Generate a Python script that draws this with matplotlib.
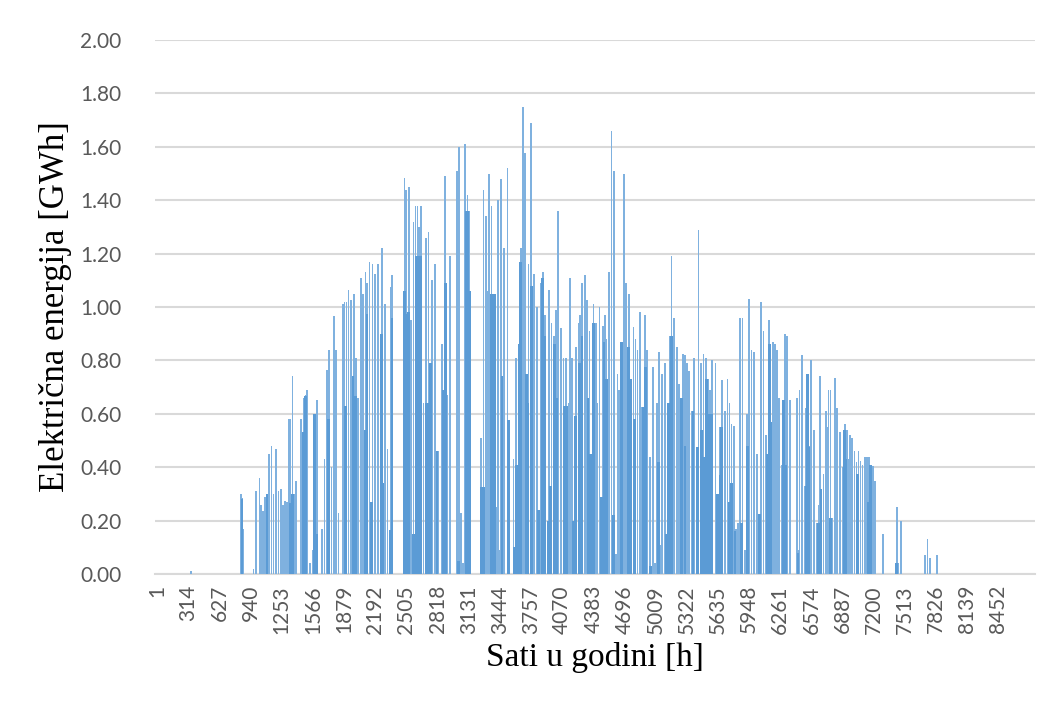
import matplotlib.pyplot as plt
from matplotlib.ticker import FixedLocator, FuncFormatter

# hourly output of the plant over one year (8760 h); hours not listed are zero
hours = [
    340,
    843, 853, 863, 970, 997, 1031, 1044, 1064, 1088, 1104, 1124, 1151, 1171,
    1198, 1221, 1245, 1265, 1288, 1305, 1322, 1339, 1362, 1379, 1395, 1446,
    1459, 1476, 1492, 1509, 1539, 1566, 1586, 1606, 1656, 1683, 1707, 1727,
    1754, 1780, 1800, 1824, 1867, 1884, 1904, 1924, 1948, 1968, 1981, 2001,
    2021, 2048, 2068, 2095, 2108, 2135, 2148, 2165, 2192, 2219, 2249, 2262,
    2276, 2289, 2316, 2336, 2346, 2363, 2477, 2487, 2503, 2530, 2550, 2577,
    2587, 2597,
    2617, 2633, 2650, 2677, 2704, 2727, 2744, 2761, 2794, 2828, 2864, 2878,
    2891, 2911, 2945, 3012, 3035, 3052, 3072, 3095, 3119, 3132, 3146, 3253,
    3266, 3279, 3303, 3320, 3333, 3360, 3380, 3393, 3413, 3427, 3447, 3453,
    3474, 3487, 3520, 3534, 3581, 3607, 3624, 3638, 3654, 3674, 3698, 3715,
    3731, 3755, 3775, 3788, 3815, 3835, 3855, 3875, 3895, 3922, 3939, 3962,
    3989, 4009, 4029, 4056, 4083, 4109, 4133, 4150, 4170, 4196, 4210, 4237,
    4250, 4270, 4297, 4317, 4344, 4364, 4384, 4411,
    4418, 4445, 4458, 4478, 4498, 4512, 4538, 4565, 4579, 4592, 4609, 4626,
    4639, 4659, 4679, 4689, 4713, 4726, 4743, 4766, 4786, 4806, 4826, 4853,
    4873, 4900, 4920, 4954, 4980, 5000, 5020, 5041, 5061, 5074, 5101, 5114,
    5134, 5154, 5168, 5194, 5221, 5241, 5261, 5282, 5302, 5322, 5342, 5369,
    5395, 5422, 5439, 5462, 5489, 5516, 5536, 5556, 5576, 5610, 5630, 5650,
    5676, 5703, 5730, 5750, 5770, 5797, 5817, 5837, 5857, 5881, 5904, 5924,
    5948, 5971, 5998, 6025, 6045, 6065, 6092, 6118, 6145, 6165, 6185, 6205,
    6225, 6245, 6272, 6285, 6299, 6312, 6332, 6359, 6426, 6439, 6453, 6479,
    6506, 6520, 6540, 6553, 6573, 6600, 6627, 6647, 6657, 6674, 6694, 6720,
    6734, 6747, 6767, 6787, 6814, 6834, 6861, 6888, 6908, 6928, 6941, 6961,
    6981, 7008, 7028, 7048, 7068, 7088, 7109, 7129, 7149, 7169, 7196, 7216,
    7296, 7423, 7437, 7450, 7473, 7714, 7741, 7765, 7835,
]
energy = [
    0.01,
    0.30, 0.285, 0.17, 0.02, 0.31, 0.36, 0.26, 0.235, 0.29, 0.30, 0.45, 0.48, 0.30,
    0.47, 0.31, 0.32, 0.26, 0.275, 0.27, 0.58, 0.58, 0.74, 0.30, 0.35, 0.58,
    0.26, 0.66, 0.67, 0.69, 0.04, 0.09, 0.15, 0.65, 0.17, 0.43, 0.765, 0.84,
    0.40, 0.965, 0.84, 0.23, 1.01, 1.02, 1.02, 1.065, 1.025, 0.74, 1.05, 0.81,
    0.66, 1.11, 1.05, 1.13, 1.09, 1.17, 0.27, 1.16, 1.125, 1.16, 0.90, 1.22,
    0.34, 1.01, 0.47, 0.165, 1.075, 1.12, 1.06, 1.485, 1.44, 1.45, 0.95, 1.32,
    0.15, 1.38,
    1.38, 1.30, 1.38, 0.64, 1.26, 1.28, 0.79, 1.10, 1.16, 0.46, 0.86, 0.69,
    1.49, 0.67, 1.19, 1.51, 1.60, 0.23, 0.04, 1.61, 1.42, 1.36, 1.06, 0.51,
    0.325, 1.44, 1.34, 1.06, 1.50, 1.38, 1.04, 1.04, 0.25, 1.40, 0.09, 1.48,
    0.74, 1.22, 1.52, 0.575, 0.43, 0.81, 0.41, 0.86, 1.22, 1.75, 1.575, 0.74,
    1.16, 1.69, 1.08, 1.125, 1.00, 0.24, 1.09, 1.13, 0.97, 0.20, 1.065, 0.94,
    0.89, 0.99, 1.36, 0.92, 0.81, 0.81, 0.64, 1.11, 0.81, 0.56, 0.85, 0.94,
    0.97, 1.09, 1.12, 1.025, 0.91, 0.45, 1.01, 0.94,
    0.64, 1.00, 0.29, 0.93, 0.97, 0.88, 1.13, 1.66, 0.22, 1.51, 0.075, 0.75,
    0.69, 0.87, 0.325, 1.50, 1.09, 0.85, 1.05, 0.73, 0.925, 0.88, 0.84, 0.98,
    0.625, 0.97, 0.84, 0.44, 0.775, 0.04, 0.64, 0.83, 0.11, 0.75, 0.79, 0.15,
    0.64, 0.89, 1.19, 0.96, 0.85, 0.71, 0.66, 0.825, 0.82, 0.79, 0.76, 0.61,
    0.81, 0.475, 1.29, 0.79, 0.825, 0.81, 0.73, 0.69, 0.80, 0.79, 0.29, 0.55,
    0.725, 0.61, 0.73, 0.64, 0.56, 0.555, 0.17, 0.19, 0.96, 0.96, 0.09, 0.60,
    1.03, 0.84, 0.83, 0.45, 0.225, 1.02, 0.91, 0.52, 0.95, 0.57, 0.87, 0.86,
    0.84, 0.66, 0.41, 0.06, 0.65, 0.90, 0.89, 0.65, 0.66, 0.09, 0.69, 0.82,
    0.33, 0.62, 0.75, 0.48, 0.80, 0.54, 0.19, 0.26, 0.74, 0.18, 0.375, 0.61,
    0.55, 0.69, 0.69, 0.21, 0.735, 0.62, 0.53, 0.40, 0.56, 0.54, 0.43, 0.52,
    0.51, 0.46, 0.42, 0.46, 0.425, 0.41, 0.44, 0.44, 0.44, 0.40, 0.405, 0.35,
    0.15, 0.025, 0.25, 0.04, 0.20, 0.07, 0.13, 0.06, 0.07,
]

# runs of neighbouring hours that merge into solid blocks
block_hours = [
    854, 1105, 1340, 1365, 1470, 1495, 1585, 1600, 1720, 1890, 1970, 1995,
    2090, 2110, 2155, 2255, 2270, 2340, 2360, 2485, 2510, 2530, 2575, 2605,
    2625, 2645, 2705, 2720, 2750, 2812, 2875, 2900, 3030, 3105, 3125, 3140,
    3260, 3285, 3355, 3375, 3395, 3465, 3531, 3590, 3610, 3640, 3650, 3710,
    3725, 3765, 3830, 3875, 3890, 3930, 3950, 3995, 4010, 4095, 4115, 4180,
    4205, 4245, 4270, 4330, 4355, 4384, 4465, 4490, 4518, 4585, 4665, 4735,
    4760, 4800, 4885, 4905, 4954, 5035, 5120, 5140, 5165, 5270, 5305, 5385,
    5430, 5472, 5490, 5522, 5540, 5573, 5628, 5660, 5673, 5750, 5770, 5807,
    5870, 5930, 6050, 6135, 6150, 6165, 6295, 6310, 6440, 6520, 6535, 6550,
    6645, 6670, 6765, 6905, 6920, 7040, 7150, 7170, 7430,
]
block_energy = [
    0.28, 0.30, 0.265, 0.30, 0.53, 0.665, 0.60, 0.15, 0.58, 0.63, 0.74, 0.665,
    0.54, 0.975, 0.27, 0.90, 0.34, 0.165, 0.96, 1.06, 0.975, 0.98, 0.15, 1.19,
    1.19, 1.19, 0.64, 0.64, 0.79, 0.46, 0.69, 1.09, 0.05, 1.36, 1.36, 1.06,
    0.325, 0.325, 1.05, 1.05, 1.05, 0.74, 0.575, 0.10, 0.41, 0.86, 1.17, 0.75,
    0.64, 1.08, 0.24, 1.11, 0.89, 0.20, 0.33, 0.86, 0.66, 0.63, 0.63, 0.20,
    0.59, 0.79, 0.89, 0.66, 0.45, 0.94, 0.29, 0.87, 0.73, 0.22, 0.87, 0.85,
    0.73, 0.58, 0.625, 0.775, 0.03, 0.42, 0.15, 0.64, 0.89, 0.66, 0.48, 0.61,
    0.475, 0.54, 0.44, 0.73, 0.60, 0.60, 0.30, 0.37, 0.55, 0.27, 0.34, 0.16,
    0.19, 0.48, 0.225, 0.45, 0.86, 0.57, 0.65, 0.41, 0.08, 0.33, 0.75, 0.475,
    0.19, 0.32, 0.21, 0.54, 0.43, 0.375, 0.27, 0.41, 0.04,
]

n_hours = 8760
tick_hours = list(range(1, n_hours + 1, 313))

blue = '#5B9BD5'
light_blue = '#7FB1DF'
grey = '#595959'

fig = plt.figure(figsize=(10.49, 7.11), dpi=100)
ax = fig.add_axes([155 / 1049, 1 - 574 / 711, 880 / 1049, 534 / 711])

ax.bar(hours, energy, width=17, color=light_blue, linewidth=0, zorder=3)
ax.bar(block_hours, block_energy, width=28, color=blue, linewidth=0, zorder=4)

ax.set_xlim(-20, n_hours + 60)
ax.set_ylim(0, 2.0)
ax.set_yticks([i * 0.2 for i in range(11)])
ax.yaxis.set_major_formatter(FuncFormatter(lambda v, _: '{:.2f}'.format(v)))
ax.xaxis.set_major_locator(FixedLocator(tick_hours))
ax.set_xticklabels([str(h) for h in tick_hours], rotation=90)

ax.grid(axis='y', color='#D9D9D9', linewidth=1.5, zorder=0)
ax.set_axisbelow(True)
for side in ('top', 'right', 'left'):
    ax.spines[side].set_visible(False)
ax.spines['bottom'].set_color('#D9D9D9')
ax.spines['bottom'].set_linewidth(1.5)
ax.tick_params(axis='both', length=0, labelsize=15, labelcolor=grey)
ax.tick_params(axis='y', pad=24)
ax.tick_params(axis='x', pad=8)
for lbl in ax.get_xticklabels() + ax.get_yticklabels():
    lbl.set_family('Lato')

ax.set_ylabel('Električna energija [GWh]', family='Liberation Serif',
              fontsize=25, labelpad=6)
ax.set_xlabel('Sati u godini [h]', family='Liberation Serif',
              fontsize=24, labelpad=6)

fig.savefig('out.png', dpi=100)
